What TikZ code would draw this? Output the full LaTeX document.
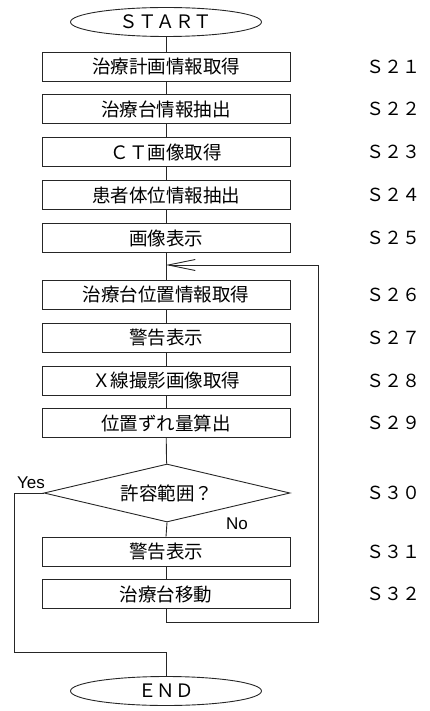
\documentclass[tikz,border=0pt]{standalone}
\usepackage{fontspec}
\setmainfont{Liberation Sans}
\newfontfamily\jp{Noto Sans CJK JP}
\usetikzlibrary{shapes.geometric,arrows.meta}
\begin{document}
\begin{tikzpicture}[x=1pt,y=1pt,
 line/.style={line width=0.9pt, draw=black!85},
 box/.style={draw=black!85, line width=0.9pt, rectangle, minimum width=248pt, minimum height=29pt, inner sep=0pt, font=\jp\fontsize{18.5}{20}\selectfont},
 term/.style={draw=black!85, line width=0.9pt, ellipse, minimum width=191pt, minimum height=29pt, inner sep=0pt, font=\jp\fontsize{18.5}{20}\selectfont},
 dec/.style={draw=black!85, line width=0.9pt, diamond, aspect=4.24, minimum width=246pt, minimum height=58pt, inner sep=0pt, font=\jp\fontsize{18.5}{20}\selectfont},
 stepl/.style={font=\jp\fontsize{18}{20}\selectfont, anchor=center},
 yn/.style={font=\fontsize{17}{18}\selectfont}
]
\useasboundingbox (0,0) rectangle (429,-711);
\node[term] (start) at (166,-22) {ＳＴＡＲＴ};
\node[box] (s21) at (166,-66.5) {治療計画情報取得};
\node[box] (s22) at (166,-109) {治療台情報抽出};
\node[box] (s23) at (166,-152) {ＣＴ画像取得};
\node[box] (s24) at (166,-195) {患者体位情報抽出};
\node[box] (s25) at (166,-238) {画像表示};
\node[box] (s26) at (166,-294.5) {治療台位置情報取得};
\node[box] (s27) at (166,-337.5) {警告表示};
\node[box] (s28) at (166,-380.5) {Ｘ線撮影画像取得};
\node[box] (s29) at (166,-423) {位置ずれ量算出};
\node[dec] (d) at (167,-493) {許容範囲？};
\node[box] (s31) at (166,-551.5) {警告表示};
\node[box] (s32) at (166,-594) {治療台移動};
\node[term] (end) at (166,-691) {ＥＮＤ};

\node[stepl] (l21) at (393,-66.5) {Ｓ２１};
\node[stepl] (l22) at (393,-109) {Ｓ２２};
\node[stepl] (l23) at (393,-152) {Ｓ２３};
\node[stepl] (l24) at (393,-195) {Ｓ２４};
\node[stepl] (l25) at (393,-238) {Ｓ２５};
\node[stepl] (l26) at (393,-294.5) {Ｓ２６};
\node[stepl] (l27) at (393,-337.5) {Ｓ２７};
\node[stepl] (l28) at (393,-380.5) {Ｓ２８};
\node[stepl] (l29) at (393,-423) {Ｓ２９};
\node[stepl] (l30) at (393,-493) {Ｓ３０};
\node[stepl] (l31) at (393,-551.5) {Ｓ３１};
\node[stepl] (l32) at (393,-594) {Ｓ３２};

\node[yn] (yes) at (31,-483) {Yes};
\node[yn] (no) at (237,-524) {No};

\draw[line] (start) -- (s21);
\draw[line] (s21) -- (s22);
\draw[line] (s22) -- (s23);
\draw[line] (s23) -- (s24);
\draw[line] (s24) -- (s25);
\draw[line] (s25) -- (s26);
\draw[line] (s26) -- (s27);
\draw[line] (s27) -- (s28);
\draw[line] (s28) -- (s29);
\draw[line] (s29) -- (d);
\draw[line] (d.south) -- (s31.north);
\draw[line] (s31) -- (s32);

\coordinate (join) at (166,-265);
\coordinate (lr) at (318,-622);
\draw[line, -{Straight Barb[length=27pt,width=11pt,line width=0.9pt]}] (s32.south) |- (lr) |- (join);

\coordinate (yl) at (14,-652);
\draw[line] (d.west) -| (yl) -| (end.north);
\end{tikzpicture}
\end{document}
